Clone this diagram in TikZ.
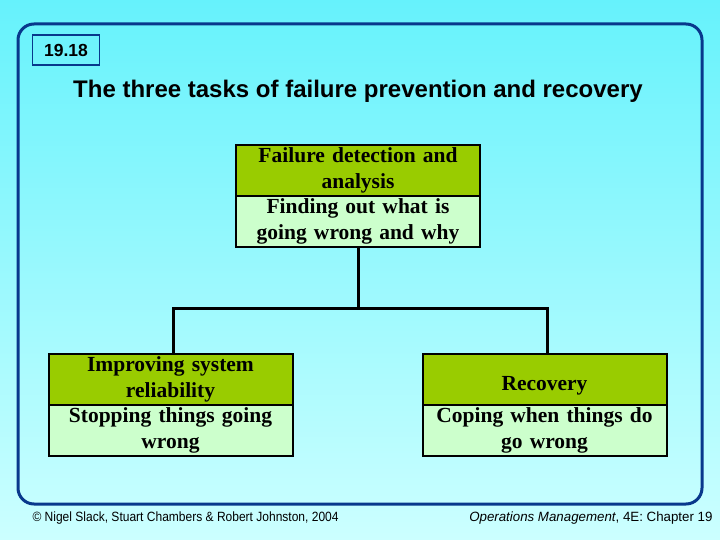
\documentclass[tikz,border=0pt]{standalone}
\usepackage{fontspec}
\setmainfont{Liberation Serif}
\setsansfont{Liberation Sans}
\definecolor{bgtop}{RGB}{102,242,252}
\definecolor{bgbot}{RGB}{204,255,255}
\definecolor{frameblue}{RGB}{8,56,140}
\definecolor{hdgreen}{RGB}{153,204,0}
\definecolor{bdgreen}{RGB}{204,255,204}
\begin{document}
\begin{tikzpicture}[x=1pt,y=-1pt,
  head/.style={draw=black, line width=2pt, fill=hdgreen, minimum width=244pt, minimum height=51pt,
    inner sep=0pt, text width=240pt, align=center, font=\fontsize{21.5}{26}\selectfont\bfseries},
  body/.style={head, fill=bdgreen},
  link/.style={draw=black, line width=3pt},
  frame/.style={draw=frameblue, line width=3pt, rounded corners=16pt}]
\useasboundingbox (0,0) rectangle (720,540);
\shade[top color=bgtop, bottom color=bgbot] (0,0) rectangle (720,540);
\draw[frame] (18,24) rectangle (702,504);
\node[draw=frameblue, line width=1.5pt, minimum width=67pt, minimum height=30pt, inner sep=0pt,
  font=\sffamily\bfseries\fontsize{17.5}{20}\selectfont] (num) at (66,50) {19.18};
\node[font=\sffamily\bfseries\fontsize{24}{28}\selectfont] (title) at (358,91)
  {The three tasks of failure prevention and recovery};
% top box
\node[head] (th) at (358,170.5) {Failure detection and\\analysis};
\node[body] (tb) at (358,221.5) {Finding out what is\\going wrong and why};
% left box
\node[head] (lh) at (170.5,379.5) {Improving system\\reliability};
\node[body] (lb) at (170.5,430.5) {Stopping things going\\wrong};
% right box
\node[head] (rh) at (544.5,379.5) {\rule{0pt}{26pt}Recovery};
\node[body] (rb) at (544.5,430.5) {Coping when things do\\go wrong};
% connectors
\coordinate (j) at (358,308);
\draw[link] (tb.south) -- (j);
\draw[link] (lh.north -| 173,0) |- (j);
\draw[link] (rh.north -| 547,0) |- (j);
% footer
\node[anchor=west, font=\sffamily\fontsize{12.2}{14}\selectfont] (fl) at (29,518)
  {\scalebox{0.985}[1.1]{\textcopyright\ Nigel Slack, Stuart Chambers \& Robert Johnston, 2004}};
\node[anchor=east, font=\sffamily\fontsize{12.2}{14}\selectfont] (fr) at (716,518)
  {\scalebox{1.09}[1.1]{\textit{Operations Management}, 4E: Chapter 19}};
\end{tikzpicture}
\end{document}
